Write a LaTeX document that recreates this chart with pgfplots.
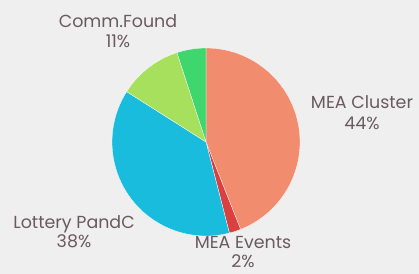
\documentclass[border=0pt]{standalone}
\usepackage{pgfplots}
\pgfplotsset{compat=1.18}
\usepackage{pgfplotstable}
\usepackage{fontspec}
\setmainfont{Poppins}
\definecolor{bgcol}{HTML}{EFEFEF}
\definecolor{txtcol}{HTML}{6A5A5F}
\definecolor{slice0}{HTML}{F28C6E}
\definecolor{slice1}{HTML}{D9403F}
\definecolor{slice2}{HTML}{1ABCDD}
\definecolor{slice3}{HTML}{A6E05C}
\definecolor{slice4}{HTML}{3FD66E}
\pgfplotstableread{
label value
MEACluster 44
MEAEvents 2
LotteryPandC 38
CommFound 11
Other 5
}\piedata
\begin{document}
\begin{tikzpicture}
\begin{axis}[
  width=419bp, height=274bp, scale only axis,
  xmin=0, xmax=419, ymin=0, ymax=274,
  hide axis, clip=false,
]
\fill[bgcol] (axis cs:0,0) rectangle (axis cs:419,274);
\xdef\startangle{90}
\pgfplotsinvokeforeach{0,...,4}{%
  \pgfplotstablegetelem{#1}{value}\of\piedata
  \pgfmathsetmacro{\angA}{\startangle}%
  \pgfmathsetmacro{\angB}{\startangle-3.6*\pgfplotsretval}%
  \edef\temp{\noexpand\fill[fill=slice#1, draw=white, line width=0.3pt, line join=round] (axis cs:206,132) -- ++(\angA:94bp) arc[start angle=\angA, end angle=\angB, radius=94bp] -- cycle;}%
  \temp
  \xdef\startangle{\angB}%
}
\begin{scope}[every node/.style={text=txtcol, anchor=base, inner sep=0pt, font=\fontsize{17.5}{21}\selectfont}]
\node at (axis cs:118,246) {Comm.Found};
\node at (axis cs:118,226) {11\%};
\node at (axis cs:362,165) {MEA Cluster};
\node at (axis cs:362,144) {44\%};
\node at (axis cs:74,45) {Lottery PandC};
\node at (axis cs:74,27) {38\%};
\node at (axis cs:243,26) {MEA Events};
\node at (axis cs:243,7) {2\%};
\end{scope}
\end{axis}
\end{tikzpicture}
\end{document}
